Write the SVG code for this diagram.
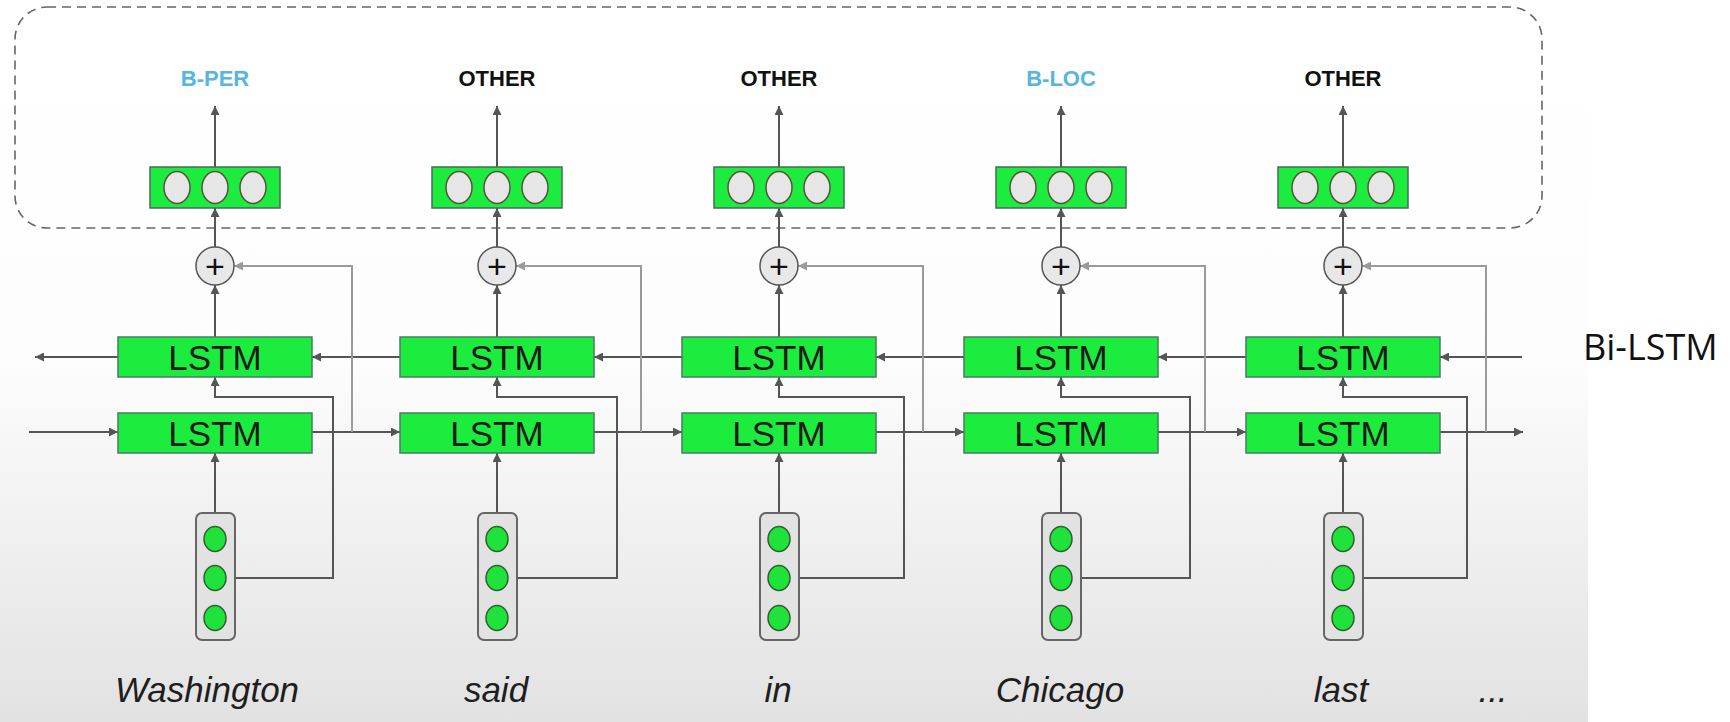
<svg xmlns="http://www.w3.org/2000/svg" width="1730" height="722" viewBox="0 0 1730 722">
  <defs>
    <linearGradient id="bg" x1="0" y1="0" x2="0" y2="1">
      <stop offset="0" stop-color="#ffffff"/>
      <stop offset="0.5" stop-color="#fdfdfd"/>
      <stop offset="1" stop-color="#e2e2e2"/>
    </linearGradient>
    <marker id="arr" viewBox="0 0 10 10" refX="10" refY="5" markerWidth="10" markerHeight="9" markerUnits="userSpaceOnUse" orient="auto">
      <path d="M0,0 L10,5 L0,10 z" fill="#555"/>
    </marker>
    <marker id="arrLight" viewBox="0 0 10 10" refX="10" refY="5" markerWidth="10" markerHeight="9" markerUnits="userSpaceOnUse" orient="auto">
      <path d="M0,0 L10,5 L0,10 z" fill="#9a9a9a"/>
    </marker>
  </defs>
  <style>
    .lstm { fill: #1cec3e; stroke: #4a7a66; stroke-width: 1.5; }
    .lstm-t { font-family: "Liberation Sans", Arial, sans-serif; font-size: 35px; fill: #1a1a1a; text-anchor: middle; }
    .out { fill: #1cec3e; stroke: #4a6a5a; stroke-width: 1.5; }
    .cell { fill: #e6e6e6; stroke: #5a5040; stroke-width: 1.5; }
    .emb { fill: #e2e2e2; stroke: #666; stroke-width: 2; }
    .dot { fill: #1fe33a; stroke: #2f5f30; stroke-width: 1.5; }
    .plus { fill: #e8e8e8; stroke: #555; stroke-width: 1.5; }
    .plus-t { font-family: "Liberation Sans", Arial, sans-serif; font-size: 34px; fill: #111; text-anchor: middle; }
    .tag { font-family: "Liberation Sans", Arial, sans-serif; font-size: 22px; font-weight: bold; text-anchor: middle; fill: #111; }
    .tag.ent { fill: #58b4e0; }
    .word { font-family: "Liberation Sans", Arial, sans-serif; font-size: 35px; font-style: italic; fill: #1e1e1e; text-anchor: middle; }
    .ln { fill: none; stroke: #555; stroke-width: 2; }
    .ln-a { fill: none; stroke: #555; stroke-width: 2; marker-end: url(#arr); }
    .fb { fill: none; stroke: #9a9a9a; stroke-width: 2; marker-end: url(#arrLight); }
  </style>

  <!-- slide background -->
  <rect x="0" y="0" width="1730" height="722" fill="#ffffff"/>
  <rect x="0" y="0" width="1588" height="722" fill="url(#bg)"/>

  <!-- output region -->
  <rect id="output-region" x="15" y="7" width="1527" height="221" rx="32" ry="32" fill="none" stroke="#666" stroke-width="1.6" stroke-dasharray="9 6"/>

  <!-- connectors -->
  <g id="connectors">
    <!-- forward chain -->
    <path class="ln-a" d="M29,432 H118"/>
    <path class="ln-a" d="M312,432 H400"/>
    <path class="ln-a" d="M594,432 H682"/>
    <path class="ln-a" d="M876,432 H964"/>
    <path class="ln-a" d="M1158,432 H1246"/>
    <path class="ln-a" d="M1440,432 H1523"/>
    <!-- backward chain -->
    <path class="ln-a" d="M118,357 H35"/>
    <path class="ln-a" d="M400,357 H312"/>
    <path class="ln-a" d="M682,357 H594"/>
    <path class="ln-a" d="M964,357 H876"/>
    <path class="ln-a" d="M1246,357 H1158"/>
    <path class="ln-a" d="M1522,357 H1440"/>

    <!-- embeddings into forward LSTM -->
    <path class="ln-a" d="M215,513 V453"/>
    <path class="ln-a" d="M497,513 V453"/>
    <path class="ln-a" d="M779,513 V453"/>
    <path class="ln-a" d="M1061,513 V453"/>
    <path class="ln-a" d="M1343,513 V453"/>
    <!-- embeddings into backward LSTM -->
    <path class="ln-a" d="M235,578 H333 V397 H215 V377"/>
    <path class="ln-a" d="M517,578 H617 V397 H497 V377"/>
    <path class="ln-a" d="M799,578 H904 V397 H779 V377"/>
    <path class="ln-a" d="M1081,578 H1190 V397 H1061 V377"/>
    <path class="ln-a" d="M1363,578 H1467 V397 H1343 V377"/>

    <!-- backward LSTM into sum -->
    <path class="ln-a" d="M215,337 V285"/>
    <path class="ln-a" d="M497,337 V285"/>
    <path class="ln-a" d="M779,337 V285"/>
    <path class="ln-a" d="M1061,337 V285"/>
    <path class="ln-a" d="M1343,337 V285"/>
    <!-- forward LSTM into sum -->
    <path class="fb" d="M352,432 V266 H234"/>
    <path class="fb" d="M641,432 V266 H516"/>
    <path class="fb" d="M923,432 V266 H798"/>
    <path class="fb" d="M1205,432 V266 H1080"/>
    <path class="fb" d="M1486,432 V266 H1362"/>

    <!-- sum into output layer -->
    <path class="ln-a" d="M215,247 V208"/>
    <path class="ln-a" d="M497,247 V208"/>
    <path class="ln-a" d="M779,247 V208"/>
    <path class="ln-a" d="M1061,247 V208"/>
    <path class="ln-a" d="M1343,247 V208"/>
    <!-- output layer to tag -->
    <path class="ln-a" d="M215,167 V106"/>
    <path class="ln-a" d="M497,167 V106"/>
    <path class="ln-a" d="M779,167 V106"/>
    <path class="ln-a" d="M1061,167 V106"/>
    <path class="ln-a" d="M1343,167 V106"/>
  </g>

  <!-- column 1 -->
  <g id="tag-1"><text class="tag ent" x="215" y="86">B-PER</text></g>
  <g id="out-1">
    <rect class="out" x="150" y="167" width="130" height="41"/>
    <ellipse class="cell" cx="177" cy="187.5" rx="13" ry="16"/>
    <ellipse class="cell" cx="215" cy="187.5" rx="13" ry="16"/>
    <ellipse class="cell" cx="253" cy="187.5" rx="13" ry="16"/>
  </g>
  <g id="sum-1"><circle class="plus" cx="215" cy="266" r="19"/><text class="plus-t" x="215" y="278">+</text></g>
  <g id="bwd-1"><rect class="lstm" x="118" y="337" width="194" height="40"/><text class="lstm-t" x="215" y="370">LSTM</text></g>
  <g id="fwd-1"><rect class="lstm" x="118" y="413" width="194" height="40"/><text class="lstm-t" x="215" y="446">LSTM</text></g>
  <g id="emb-1">
    <rect class="emb" x="196" y="513" width="39" height="127" rx="6"/>
    <ellipse class="dot" cx="215" cy="539" rx="11" ry="12.5"/>
    <ellipse class="dot" cx="215" cy="578" rx="11" ry="12.5"/>
    <ellipse class="dot" cx="215" cy="618" rx="11" ry="12.5"/>
  </g>
  <g id="word-1"><text class="word" x="207" y="702">Washington</text></g>

  <!-- column 2 -->
  <g id="tag-2"><text class="tag" x="497" y="86">OTHER</text></g>
  <g id="out-2">
    <rect class="out" x="432" y="167" width="130" height="41"/>
    <ellipse class="cell" cx="459" cy="187.5" rx="13" ry="16"/>
    <ellipse class="cell" cx="497" cy="187.5" rx="13" ry="16"/>
    <ellipse class="cell" cx="535" cy="187.5" rx="13" ry="16"/>
  </g>
  <g id="sum-2"><circle class="plus" cx="497" cy="266" r="19"/><text class="plus-t" x="497" y="278">+</text></g>
  <g id="bwd-2"><rect class="lstm" x="400" y="337" width="194" height="40"/><text class="lstm-t" x="497" y="370">LSTM</text></g>
  <g id="fwd-2"><rect class="lstm" x="400" y="413" width="194" height="40"/><text class="lstm-t" x="497" y="446">LSTM</text></g>
  <g id="emb-2">
    <rect class="emb" x="478" y="513" width="39" height="127" rx="6"/>
    <ellipse class="dot" cx="497" cy="539" rx="11" ry="12.5"/>
    <ellipse class="dot" cx="497" cy="578" rx="11" ry="12.5"/>
    <ellipse class="dot" cx="497" cy="618" rx="11" ry="12.5"/>
  </g>
  <g id="word-2"><text class="word" x="496" y="702">said</text></g>

  <!-- column 3 -->
  <g id="tag-3"><text class="tag" x="779" y="86">OTHER</text></g>
  <g id="out-3">
    <rect class="out" x="714" y="167" width="130" height="41"/>
    <ellipse class="cell" cx="741" cy="187.5" rx="13" ry="16"/>
    <ellipse class="cell" cx="779" cy="187.5" rx="13" ry="16"/>
    <ellipse class="cell" cx="817" cy="187.5" rx="13" ry="16"/>
  </g>
  <g id="sum-3"><circle class="plus" cx="779" cy="266" r="19"/><text class="plus-t" x="779" y="278">+</text></g>
  <g id="bwd-3"><rect class="lstm" x="682" y="337" width="194" height="40"/><text class="lstm-t" x="779" y="370">LSTM</text></g>
  <g id="fwd-3"><rect class="lstm" x="682" y="413" width="194" height="40"/><text class="lstm-t" x="779" y="446">LSTM</text></g>
  <g id="emb-3">
    <rect class="emb" x="760" y="513" width="39" height="127" rx="6"/>
    <ellipse class="dot" cx="779" cy="539" rx="11" ry="12.5"/>
    <ellipse class="dot" cx="779" cy="578" rx="11" ry="12.5"/>
    <ellipse class="dot" cx="779" cy="618" rx="11" ry="12.5"/>
  </g>
  <g id="word-3"><text class="word" x="778" y="702">in</text></g>

  <!-- column 4 -->
  <g id="tag-4"><text class="tag ent" x="1061" y="86">B-LOC</text></g>
  <g id="out-4">
    <rect class="out" x="996" y="167" width="130" height="41"/>
    <ellipse class="cell" cx="1023" cy="187.5" rx="13" ry="16"/>
    <ellipse class="cell" cx="1061" cy="187.5" rx="13" ry="16"/>
    <ellipse class="cell" cx="1099" cy="187.5" rx="13" ry="16"/>
  </g>
  <g id="sum-4"><circle class="plus" cx="1061" cy="266" r="19"/><text class="plus-t" x="1061" y="278">+</text></g>
  <g id="bwd-4"><rect class="lstm" x="964" y="337" width="194" height="40"/><text class="lstm-t" x="1061" y="370">LSTM</text></g>
  <g id="fwd-4"><rect class="lstm" x="964" y="413" width="194" height="40"/><text class="lstm-t" x="1061" y="446">LSTM</text></g>
  <g id="emb-4">
    <rect class="emb" x="1042" y="513" width="39" height="127" rx="6"/>
    <ellipse class="dot" cx="1061" cy="539" rx="11" ry="12.5"/>
    <ellipse class="dot" cx="1061" cy="578" rx="11" ry="12.5"/>
    <ellipse class="dot" cx="1061" cy="618" rx="11" ry="12.5"/>
  </g>
  <g id="word-4"><text class="word" x="1060" y="702">Chicago</text></g>

  <!-- column 5 -->
  <g id="tag-5"><text class="tag" x="1343" y="86">OTHER</text></g>
  <g id="out-5">
    <rect class="out" x="1278" y="167" width="130" height="41"/>
    <ellipse class="cell" cx="1305" cy="187.5" rx="13" ry="16"/>
    <ellipse class="cell" cx="1343" cy="187.5" rx="13" ry="16"/>
    <ellipse class="cell" cx="1381" cy="187.5" rx="13" ry="16"/>
  </g>
  <g id="sum-5"><circle class="plus" cx="1343" cy="266" r="19"/><text class="plus-t" x="1343" y="278">+</text></g>
  <g id="bwd-5"><rect class="lstm" x="1246" y="337" width="194" height="40"/><text class="lstm-t" x="1343" y="370">LSTM</text></g>
  <g id="fwd-5"><rect class="lstm" x="1246" y="413" width="194" height="40"/><text class="lstm-t" x="1343" y="446">LSTM</text></g>
  <g id="emb-5">
    <rect class="emb" x="1324" y="513" width="39" height="127" rx="6"/>
    <ellipse class="dot" cx="1343" cy="539" rx="11" ry="12.5"/>
    <ellipse class="dot" cx="1343" cy="578" rx="11" ry="12.5"/>
    <ellipse class="dot" cx="1343" cy="618" rx="11" ry="12.5"/>
  </g>
  <g id="word-5"><text class="word" x="1341" y="702">last</text></g>

  <g id="ellipsis"><text class="word" x="1493" y="702">...</text></g>

  <g id="title"><text x="1583" y="360" font-family="'Open Sans', 'Noto Sans', sans-serif" font-size="36" fill="#111">Bi-LSTM</text></g>
</svg>
